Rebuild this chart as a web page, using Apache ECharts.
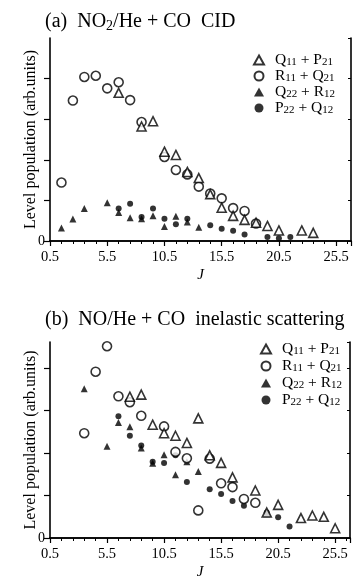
<!DOCTYPE html>
<html>
<head>
<meta charset="utf-8">
<script src="https://cdn.jsdelivr.net/npm/echarts@6/dist/echarts.min.js"></script>
<style>
  html, body { margin: 0; padding: 0; background: #fff; }
  #chart { width: 359px; height: 584px; }
</style>
</head>
<body>
<div id="chart"></div>
<script>
// series names (legend)
const seriesNames = ['Q11 + P21', 'R11 + Q21', 'Q22 + R12', 'P22 + Q12']
const xTicks = [0.5, 5.5, 10.5, 15.5, 20.5, 25.5]

// (a) NO2/He + CO CID
const a_Q11P21_J = [6.5, 8.5, 9.5, 10.5, 11.5, 12.5, 13.5, 14.5, 15.5, 16.5, 17.5, 18.5, 19.5, 20.5, 22.5, 23.5]
const a_Q11P21_v = [3.65, 2.82, 2.95, 2.2, 2.12, 1.7, 1.55, 1.15, 0.82, 0.62, 0.52, 0.45, 0.37, 0.26, 0.26, 0.2]
const a_R11Q21_J = [1.5, 2.5, 3.5, 4.5, 5.5, 6.5, 7.5, 8.5, 10.5, 11.5, 12.5, 13.5, 14.5, 15.5, 16.5, 17.5, 18.5]
const a_R11Q21_v = [1.44, 3.46, 4.04, 4.07, 3.76, 3.91, 3.47, 2.93, 2.07, 1.75, 1.64, 1.34, 1.17, 1.05, 0.81, 0.74, 0.43]
const a_Q22R12_J = [1.5, 2.5, 3.5, 5.5, 6.5, 7.5, 8.5, 9.5, 10.5, 11.5, 12.5, 13.5, 18.5]
const a_Q22R12_v = [0.32, 0.54, 0.8, 0.94, 0.7, 0.57, 0.55, 0.62, 0.36, 0.61, 0.47, 0.34, 0.47]
const a_P22Q12_J = [6.5, 7.5, 8.5, 9.5, 10.5, 11.5, 12.5, 14.5, 15.5, 16.5, 17.5, 18.5, 19.5, 20.5, 21.5]
const a_P22Q12_v = [0.8, 0.92, 0.59, 0.8, 0.55, 0.41, 0.55, 0.39, 0.3, 0.25, 0.16, 0.42, 0.1, 0.07, 0.1]

// (b) NO/He + CO inelastic scattering
const b_Q11P21_J = [7.5, 8.5, 9.5, 10.5, 11.5, 12.5, 13.5, 14.5, 15.5, 16.5, 18.5, 19.5, 20.5, 22.5, 23.5, 24.5, 25.5]
const b_Q11P21_v = [3.33, 3.38, 2.67, 2.47, 2.41, 2.24, 2.82, 1.95, 1.77, 1.43, 1.12, 0.6, 0.78, 0.47, 0.53, 0.5, 0.23]
const b_R11Q21_J = [3.5, 4.5, 5.5, 6.5, 7.5, 8.5, 10.5, 11.5, 12.5, 13.5, 14.5, 15.5, 16.5, 17.5, 18.5]
const b_R11Q21_v = [2.47, 3.92, 4.52, 3.34, 3.2, 2.88, 2.63, 2.03, 1.88, 0.65, 1.87, 1.29, 1.2, 0.92, 0.83]
const b_Q22R12_J = [3.5, 5.5, 6.5, 7.5, 8.5, 9.5, 10.5, 11.5, 12.5, 13.5, 19.5]
const b_Q22R12_v = [3.52, 2.16, 2.72, 2.62, 2.12, 1.76, 1.96, 1.49, 1.8, 1.57, 0.57]
const b_P22Q12_J = [6.5, 7.5, 8.5, 9.5, 10.5, 11.5, 12.5, 14.5, 15.5, 16.5, 17.5, 19.5, 20.5, 21.5]
const b_P22Q12_v = [2.87, 2.41, 2.18, 1.8, 1.77, 1.95, 1.32, 1.15, 1.04, 0.87, 0.76, 0.6, 0.49, 0.27]

const font = 'Liberation Serif'
const zip = (xs, ys) => xs.map((x, i) => [x, ys[i]])

// marker styles per series: open triangle, open circle, filled triangle, filled circle
const markers = [
  { symbol: 'triangle', size: 9, itemStyle: { color: '#fff', borderColor: '#000', borderWidth: 1.6 } },
  { symbol: 'circle', size: 9, itemStyle: { color: '#fff', borderColor: '#000', borderWidth: 1.6 } },
  { symbol: 'triangle', size: 7, itemStyle: { color: '#000', borderColor: '#000', borderWidth: 0 } },
  { symbol: 'circle', size: 6, itemStyle: { color: '#000', borderColor: '#000', borderWidth: 0 } }
]

const panelData = [
  [zip(a_Q11P21_J, a_Q11P21_v), zip(a_R11Q21_J, a_R11Q21_v), zip(a_Q22R12_J, a_Q22R12_v), zip(a_P22Q12_J, a_P22Q12_v)],
  [zip(b_Q11P21_J, b_Q11P21_v), zip(b_R11Q21_J, b_R11Q21_v), zip(b_Q22R12_J, b_Q22R12_v), zip(b_P22Q12_J, b_P22Q12_v)]
]

// subscripts: 'Q11 + P21' -> Q{s|11} + P{s|21}
function subText(str) {
  return str.replace(/(\d+)/g, '{s|$1}')
}

const legendRich = {
  s: { fontFamily: font, fontSize: 11, color: '#000', padding: [5, 0, 0, 0] }
}
const titleRich = {
  s: { fontFamily: font, fontSize: 14, color: '#000', padding: [8, 0, 0, 0] }
}

const grids = [
  { left: 50, top: 38, width: 301, height: 203 },
  { left: 50, top: 342, width: 300, height: 196 }
]
const yMax = [5, 4.62]

var xAxes = []
var yAxes = []
grids.forEach(function(g, i) {
  xAxes.push({
    gridIndex: i,
    type: 'value',
    min: 0.5,
    max: 26.8,
    interval: 5,
    name: 'J',
    nameLocation: 'middle',
    nameGap: 27,
    nameMoveOverlap: false,
    nameTextStyle: { fontFamily: font, fontStyle: 'italic', fontSize: 15, color: '#000' },
    axisLine: { show: true, lineStyle: { color: '#000', width: 1.6 } },
    axisTick: { show: true, length: 5, lineStyle: { color: '#000', width: 1.2 } },
    minorTick: { show: true, splitNumber: 5, length: 3, lineStyle: { color: '#000', width: 1 } },
    axisLabel: {
      showMaxLabel: false,
      margin: 9,
      fontFamily: font,
      fontSize: 14.5,
      color: '#000',
      formatter: function(v) { return xTicks.indexOf(v) >= 0 ? v.toFixed(1) : '' }
    },
    splitLine: { show: false }
  })
  // top frame
  xAxes.push({
    gridIndex: i,
    type: 'value',
    position: 'top',
    min: 0.5,
    max: 26.8,
    interval: 5,
    axisLine: { show: true, lineStyle: { color: '#000', width: 1.6 } },
    axisTick: { show: false },
    axisLabel: { show: false },
    splitLine: { show: false }
  })
  yAxes.push({
    gridIndex: i,
    type: 'value',
    min: 0,
    max: yMax[i],
    interval: 1,
    name: 'Level population (arb.units)',
    nameLocation: 'middle',
    nameGap: 11,
    nameMoveOverlap: false,
    nameTextStyle: { fontFamily: font, fontSize: 16, color: '#000' },
    axisLine: { show: true, lineStyle: { color: '#000', width: 1.6 } },
    axisTick: { show: true, length: 6, lineStyle: { color: '#000', width: 1.2 } },
    axisLabel: {
      showMaxLabel: false,
      margin: 5,
      fontFamily: font,
      fontSize: 14,
      color: '#000',
      formatter: function(v) { return v === 0 ? '0' : '' }
    },
    splitLine: { show: false }
  })
  // right frame with inner ticks
  yAxes.push({
    gridIndex: i,
    type: 'value',
    position: 'right',
    min: 0,
    max: yMax[i],
    interval: 1,
    axisLine: { show: true, lineStyle: { color: '#000', width: 1.6 } },
    axisTick: { show: true, inside: true, length: 3, lineStyle: { color: '#000', width: 1 } },
    axisLabel: { show: false },
    splitLine: { show: false }
  })
})

var series = []
panelData.forEach(function(sets, p) {
  sets.forEach(function(d, k) {
    series.push({
      name: seriesNames[k],
      type: 'scatter',
      xAxisIndex: p * 2,
      yAxisIndex: p * 2,
      data: d,
      symbol: markers[k].symbol,
      symbolSize: markers[k].size,
      itemStyle: markers[k].itemStyle,
      z: 10 - k
    })
  })
})

function makeLegend(left, top, gap) {
  return {
    orient: 'vertical',
    left: left,
    top: top,
    itemWidth: 10,
    itemHeight: 9,
    itemGap: gap,
    data: seriesNames,
    selectedMode: false,
    formatter: function(name) { return subText(name) },
    textStyle: {
      fontFamily: font,
      fontSize: 15.5,
      color: '#000',
      padding: [0, 0, 0, 6],
      rich: legendRich
    }
  }
}

var chart = echarts.init(document.getElementById('chart'))
var option = {
  backgroundColor: '#fff',
  animation: false,
  title: [
    {
      text: '(a)  NO{s|2}/He + CO  CID',
      left: 40,
      top: 6,
      textStyle: { fontFamily: font, fontSize: 20, fontWeight: 'normal', color: '#000', rich: titleRich }
    },
    {
      text: '(b)  NO/He + CO  inelastic scattering',
      left: 40,
      top: 305,
      textStyle: { fontFamily: font, fontSize: 20, fontWeight: 'normal', color: '#000' }
    }
  ],
  legend: [makeLegend(248, 47, 0), makeLegend(255, 336, 1)],
  grid: grids,
  xAxis: xAxes,
  yAxis: yAxes,
  series: series
}
chart.setOption(option)
</script>
</body>
</html>
